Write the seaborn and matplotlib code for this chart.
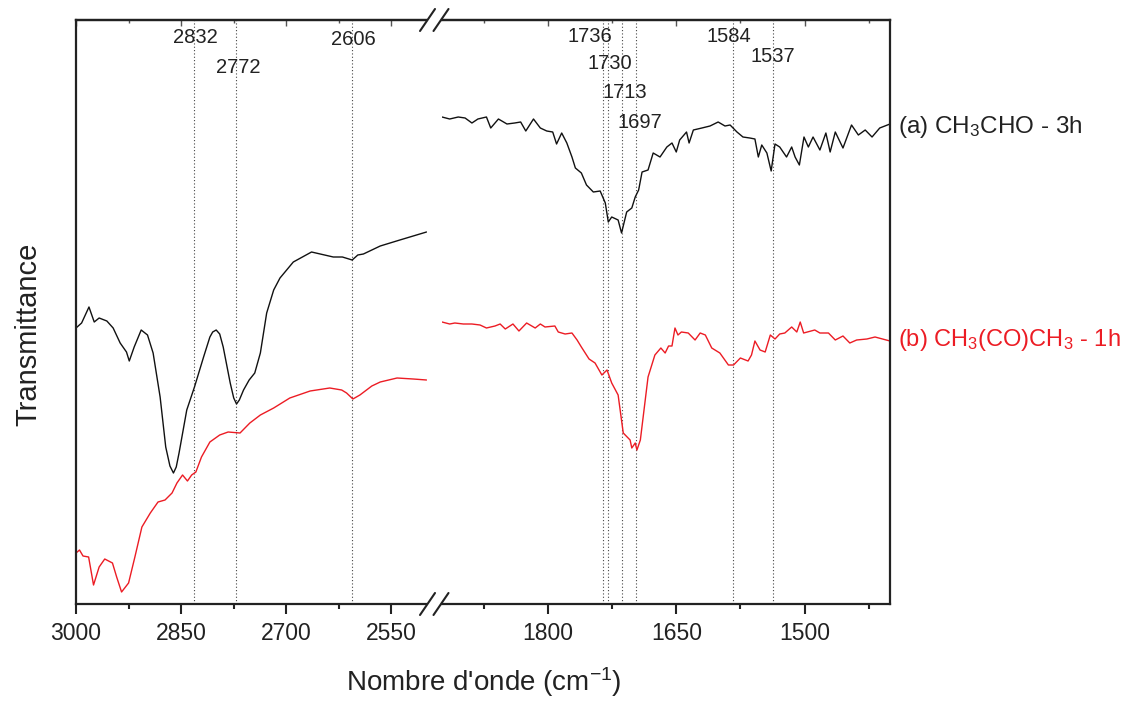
import matplotlib
matplotlib.use("Agg")
import matplotlib.pyplot as plt
from matplotlib.lines import Line2D
import seaborn as sns
import pandas as pd

# left segment (high wavenumber), transmittance in arbitrary units
wn_a_high = [3000, 2992, 2981.5, 2974, 2967, 2956, 2947, 2937, 2928, 2924, 2917, 2907, 2898, 2890,
             2880, 2872, 2866, 2861, 2857, 2853, 2842, 2831, 2818, 2809, 2805, 2800, 2795, 2790,
             2780, 2775, 2771, 2767, 2761, 2753, 2745, 2737, 2728, 2718, 2709, 2690, 2664, 2633,
             2620, 2606, 2598, 2590, 2566, 2538, 2519, 2500]
t_a_high = [276, 281, 297, 282, 286, 283, 276, 261, 252, 243, 257, 274, 269, 251,
            207, 157, 138, 131, 137, 151, 194, 217, 247, 267, 272, 274, 270, 257,
            221, 206, 200, 204, 214, 224, 231, 251, 291, 314, 326, 342, 352, 347,
            347, 344, 349, 350, 358, 364, 368, 372]

wn_b_high = [3000, 2995, 2990, 2982, 2975, 2967, 2959, 2948, 2942, 2935, 2925, 2916, 2906, 2894,
             2883, 2873, 2863, 2856, 2848, 2841, 2835, 2829, 2821, 2809, 2795, 2783, 2766, 2752,
             2737, 2718, 2695, 2666, 2638, 2621, 2614, 2605, 2595, 2578, 2566, 2542, 2519, 2500]
t_b_high = [51, 54, 48, 47, 19, 37, 45, 41, 27, 12, 21, 47, 77, 91,
            102, 104, 111, 121, 129, 123, 129, 132, 147, 162, 169, 172, 171, 181,
            189, 196, 206, 213, 216, 214, 211, 205, 209, 218, 222, 226, 225, 224]

# right segment (low wavenumber)
wn_a_low = [1924, 1915, 1905, 1897, 1889, 1882, 1872, 1867, 1858, 1848, 1839, 1832, 1826, 1817,
            1809, 1801.5, 1794.5, 1790, 1784, 1778, 1772, 1768, 1761, 1755, 1747, 1739, 1733,
            1729.5, 1725.5, 1718, 1714, 1708, 1702, 1698, 1694, 1690, 1683, 1677, 1669, 1661,
            1655, 1650, 1646, 1638, 1635, 1630, 1620, 1610.5, 1601, 1593, 1587, 1579, 1572,
            1564, 1558, 1554, 1550, 1544, 1539, 1534.5, 1529, 1521, 1515, 1511, 1506, 1500.6,
            1495.5, 1490, 1482, 1475, 1470, 1464, 1455, 1445, 1437, 1429, 1421, 1412, 1400]
t_a_low = [487, 485, 487, 486, 481, 485, 487, 476, 485, 480, 481, 482, 473, 485,
           476, 473, 472, 460, 471, 461, 447, 436, 431, 419, 412, 413, 401,
           382, 387, 384, 371, 392, 396, 407, 414, 432, 434, 451, 447, 457,
           461, 452, 464, 472, 461, 474, 476, 478, 482, 478, 479, 472, 467,
           466, 465, 447, 459, 451, 433, 460, 457, 447, 457, 447, 439, 467,
           457, 467, 454, 471, 452, 472, 456, 479, 469, 474, 467, 476, 480]

wn_b_low = [1924, 1915, 1909, 1899, 1889, 1879.5, 1872, 1862, 1856, 1850, 1841, 1834, 1825, 1815,
            1809, 1803.5, 1792, 1788, 1780, 1772, 1766, 1761, 1752, 1745, 1737, 1731, 1725.5,
            1718, 1712, 1704, 1702, 1698, 1696, 1692, 1683, 1675, 1668, 1663, 1659, 1655,
            1651.5, 1648, 1644, 1636, 1628, 1622, 1616, 1608.5, 1599, 1589, 1583, 1575, 1566,
            1562, 1558, 1552, 1546, 1540, 1534.5, 1529, 1523, 1515, 1509, 1505, 1501, 1488,
            1482, 1472, 1464, 1455, 1447, 1439, 1427, 1417.5, 1400]
t_b_low = [282, 280, 281, 280, 280, 279, 276, 278, 280, 275, 280, 273, 281, 276,
           280, 277, 278, 272, 270, 271, 264, 257, 245, 241, 229, 234, 221,
           209, 171, 164, 156, 161, 154, 164, 227, 249, 256, 251, 258, 258,
           276, 269, 272, 271, 264, 271, 269, 256, 251, 239, 239, 246, 243,
           249, 263, 254, 252, 269, 265, 270, 271, 277, 272, 282, 271, 274,
           271, 271, 264, 268, 261, 264, 265, 267, 263]

peaks_high = [2832, 2772, 2606]
peaks_low = [1736, 1730, 1713, 1697, 1584, 1537]
label_x_high = [2830, 2769, 2605]
label_y_high = [0.970, 0.918, 0.966]
label_x_low = [1751, 1727.5, 1710, 1692, 1588, 1537]
label_y_low = [0.971, 0.926, 0.875, 0.824, 0.971, 0.937]

red = "#ec1c24"
ink = "#222222"

sns.set_style("ticks")
plt.rcParams["font.family"] = ["Liberation Sans", "DejaVu Sans"]
plt.rcParams["mathtext.fontset"] = "custom"
plt.rcParams["mathtext.rm"] = "Liberation Sans"
plt.rcParams["mathtext.it"] = "Liberation Sans:italic"

fig = plt.figure(figsize=(11.26, 7.01), dpi=100)
W, H = 1126, 701
bottom = 1 - 604 / H
height = 584 / H
ax_l = fig.add_axes([76 / W, bottom, 350.5 / W, height])
ax_r = fig.add_axes([442 / W, bottom, 448 / W, height])


def style_axis(ax, xlim, majors, minors):
    ax.set_xticks(majors)
    ax.set_xticks(minors, minor=True)
    ax.set_yticks([])
    ax.set_xlim(*xlim)
    ax.set_ylim(0, 584)
    ax.tick_params(axis="x", which="major", direction="out", length=7, width=1.5,
                   labelsize=16.5, pad=6, color=ink, labelcolor=ink)
    ax.tick_params(axis="x", which="minor", direction="out", length=3.5, width=1.5, color=ink)
    for s in ax.spines.values():
        s.set_linewidth(1.6)
        s.set_color(ink)
    sec = ax.secondary_xaxis("top")
    sec.set_xticks(majors)
    sec.set_xticks(minors, minor=True)
    sec.tick_params(which="major", direction="in", length=4, width=1, labeltop=False,
                    color="#555555")
    sec.tick_params(which="minor", direction="in", length=2.5, width=1, color="#555555")
    sec.spines["top"].set_linewidth(1.6)
    sec.spines["top"].set_color(ink)


style_axis(ax_l, (3000, 2500), [3000, 2850, 2700, 2550], [2925, 2775, 2625])
style_axis(ax_r, (1924, 1400), [1800, 1650, 1500], [1875, 1725, 1575, 1425])
ax_l.spines["right"].set_visible(False)
ax_r.spines["left"].set_visible(False)

df_high = pd.concat([
    pd.DataFrame({"wn": wn_a_high, "t": t_a_high, "s": "a"}),
    pd.DataFrame({"wn": wn_b_high, "t": t_b_high, "s": "b"}),
])
df_low = pd.concat([
    pd.DataFrame({"wn": wn_a_low, "t": t_a_low, "s": "a"}),
    pd.DataFrame({"wn": wn_b_low, "t": t_b_low, "s": "b"}),
])
pal = {"a": "#111111", "b": red}
for ax, df in [(ax_l, df_high), (ax_r, df_low)]:
    sns.lineplot(data=df, x="wn", y="t", hue="s", palette=pal, estimator=None, sort=False,
                 linewidth=1.0, legend=False, ax=ax)
    ax.set_xlabel("")
    ax.set_ylabel("")

for ax, peaks, lx, ly in [(ax_l, peaks_high, label_x_high, label_y_high),
                          (ax_r, peaks_low, label_x_low, label_y_low)]:
    for p, x, y in zip(peaks, lx, ly):
        ax.axvline(p, color="#444444", lw=0.8, ls=(0, (1, 2)), zorder=0)
        ax.text(x, y, str(p), transform=ax.get_xaxis_transform(), ha="center", va="center",
                fontsize=14.5, color=ink)

# break marks
for yc in (20, 604):
    for xc in (427.5, 441):
        fig.add_artist(Line2D([(xc - 7.5) / W, (xc + 7.5) / W],
                              [1 - (yc + 11) / H, 1 - (yc - 11) / H],
                              transform=fig.transFigure, color=ink, lw=1.5))

fig.text(898 / W, 1 - 127 / H, "(a) CH$_3$CHO - 3h", fontsize=17.5, color=ink,
         ha="left", va="center")
fig.text(898 / W, 1 - 340 / H, "(b) CH$_3$(CO)CH$_3$ - 1h", fontsize=17, color=red,
         ha="left", va="center")
fig.text(484 / W, 1 - 682 / H, "Nombre d'onde (cm$^{-1}$)", fontsize=20, color=ink,
         ha="center", va="center")
fig.text(28 / W, 1 - 334 / H, "Transmittance", fontsize=21, color=ink,
         ha="center", va="center", rotation=90)

fig.savefig("out.png", dpi=100)
